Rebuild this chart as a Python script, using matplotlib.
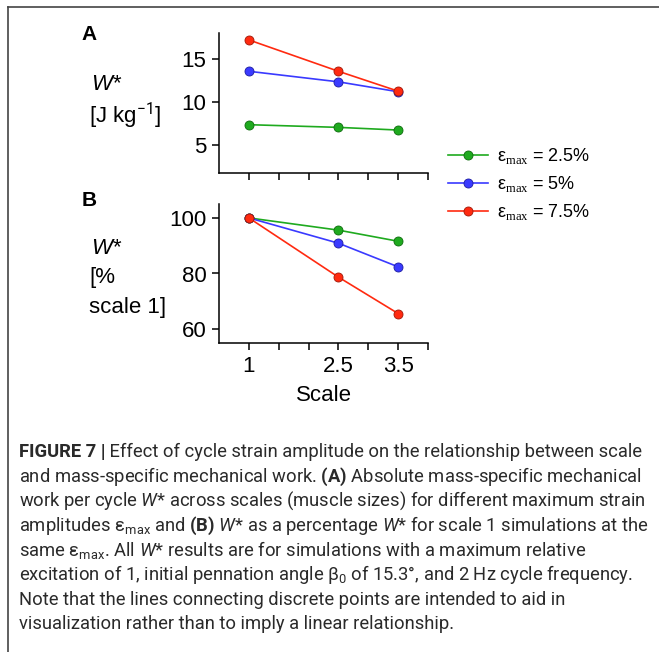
import matplotlib
matplotlib.use("Agg")
import matplotlib.pyplot as plt
from matplotlib import font_manager
from matplotlib.lines import Line2D

# scale factors on the x axis
scales = [1, 2.5, 3.5]

# absolute mass-specific work W* [J/kg] per strain amplitude
work_25 = [7.39, 7.08, 6.77]
work_50 = [13.57, 12.35, 11.2]
work_75 = [17.2, 13.57, 11.27]

# W* as percent of scale 1
pct_25 = [100, 95.6, 91.6]
pct_50 = [100, 90.9, 82.4]
pct_75 = [100, 78.7, 65.6]

series_labels = ["2.5%", "5%", "7.5%"]
series_colors = ["#1faa1f", "#3a3aff", "#ff2a10"]
edge_colors = ["#0d6a0d", "#1c1ca0", "#a01808"]

caption_head = "FIGURE 7 |"
caption_lines = [
    r" Effect of cycle strain amplitude on the relationship between scale",
    r"and mass-specific mechanical work. $\mathbf{(A)}$ Absolute mass-specific mechanical",
    r"work per cycle $\mathit{W}$* across scales (muscle sizes) for different maximum strain",
    r"amplitudes ε$_{\mathsf{max}}$ and $\mathbf{(B)}$ $\mathit{W}$* as a percentage $\mathit{W}$* for scale 1 simulations at the",
    r"same ε$_{\mathsf{max}}$. All $\mathit{W}$* results are for simulations with a maximum relative",
    r"excitation of 1, initial pennation angle β$_{\mathsf{0}}$ of 15.3°, and 2 Hz cycle frequency.",
    r"Note that the lines connecting discrete points are intended to aid in",
    r"visualization rather than to imply a linear relationship.",
]

installed = {f.name for f in font_manager.fontManager.ttflist}
cap_font = "Liberation Sans Narrow" if "Liberation Sans Narrow" in installed else "Roboto"

plt.rcParams["font.family"] = ["Liberation Sans", "DejaVu Sans"]
plt.rcParams["mathtext.fontset"] = "custom"
plt.rcParams["mathtext.rm"] = "Liberation Serif"
plt.rcParams["mathtext.sf"] = cap_font
plt.rcParams["mathtext.bf"] = cap_font + ":bold"
plt.rcParams["mathtext.it"] = cap_font + ":italic"

W, H = 659, 652
fig = plt.figure(figsize=(W / 100, H / 100), dpi=100)


def fx(px):
    return px / W


def fy(py):
    return 1 - py / H


axA = fig.add_axes([fx(219), fy(173), fx(428) - fx(219), fy(33) - fy(173)])
axB = fig.add_axes([fx(219), fy(343), fx(428) - fx(219), fy(204) - fy(343)])

for ax, data in [(axA, [work_25, work_50, work_75]), (axB, [pct_25, pct_50, pct_75])]:
    for vals, c, ec, lab in zip(data, series_colors, edge_colors, series_labels):
        ax.plot(scales, vals, color=c, lw=1.2, marker="o", ms=6.5,
                mfc=c, mec=ec, mew=0.6, label="ε$_{\\mathrm{max}}$ = " + lab)
    ax.spines["top"].set_visible(False)
    ax.spines["right"].set_visible(False)
    for s in ("left", "bottom"):
        ax.spines[s].set_linewidth(1.1)
    ax.set_xlim(0.5, 4)
    ax.set_xticks([1, 1.5, 2, 2.5, 3, 3.5, 4])
    ax.tick_params(width=1.1, length=5, labelsize=16, pad=4)

axA.set_ylim(1.8, 18)
axA.set_yticks([5, 10, 15])
axA.set_xticklabels([])

axB.set_ylim(55, 105)
axB.set_yticks([60, 80, 100])
axB.set_xticklabels(["1", "", "", "2.5", "", "3.5", ""])
axB.set_xlabel("Scale", fontsize=16, labelpad=6)

# panel letters and y labels
fig.text(fx(89), fy(35), "A", fontsize=15, fontweight="bold", ha="center", va="center")
fig.text(fx(89), fy(200), "B", fontsize=15, fontweight="bold", ha="center", va="center")
fig.text(fx(91), fy(85), "W*", fontsize=16, style="italic", va="center")
fig.text(fx(89), fy(116), "[J kg$^{\\mathsf{-1}}$]", fontsize=16, va="center")
fig.text(fx(91), fy(248), "W*", fontsize=16, style="italic", va="center")
fig.text(fx(89), fy(277), "[%", fontsize=16, va="center")
fig.text(fx(89), fy(307), "scale 1]", fontsize=16, va="center")

axA.legend(loc="upper left", bbox_to_anchor=(fx(448), fy(146)), bbox_transform=fig.transFigure,
           frameon=False, fontsize=13, handlelength=2.2, handletextpad=0.5,
           labelspacing=0.45, borderpad=0, borderaxespad=0)

# frame lines along the top and left edge
fig.add_artist(Line2D([fx(8), 1], [fy(6.5), fy(6.5)], color="#444444", lw=1.2))
fig.add_artist(Line2D([fx(8), fx(8)], [fy(6.5), 0], color="#444444", lw=1.2))

# caption, sized so the first line spans the text block
cap_color = "#2a2a2a"
head = fig.text(fx(19), fy(452), caption_head, fontsize=11, family=cap_font,
                fontweight="bold", va="center", ha="left", color=cap_color)
cap_texts = []
for i, line in enumerate(caption_lines):
    t = fig.text(fx(19), fy(452 + i * 24.6), line, fontsize=11, family=cap_font,
                 va="center", ha="left", color=cap_color)
    cap_texts.append(t)

renderer = fig.canvas.get_renderer()
w_head = head.get_window_extent(renderer).width
w0 = w_head + cap_texts[0].get_window_extent(renderer).width
new_size = 11 * (641 - 19) / w0
head.set_fontsize(new_size)
for t in cap_texts:
    t.set_fontsize(new_size)
w_head = head.get_window_extent(renderer).width
cap_texts[0].set_x(fx(19 + w_head))

fig.savefig("out.png", dpi=100)
